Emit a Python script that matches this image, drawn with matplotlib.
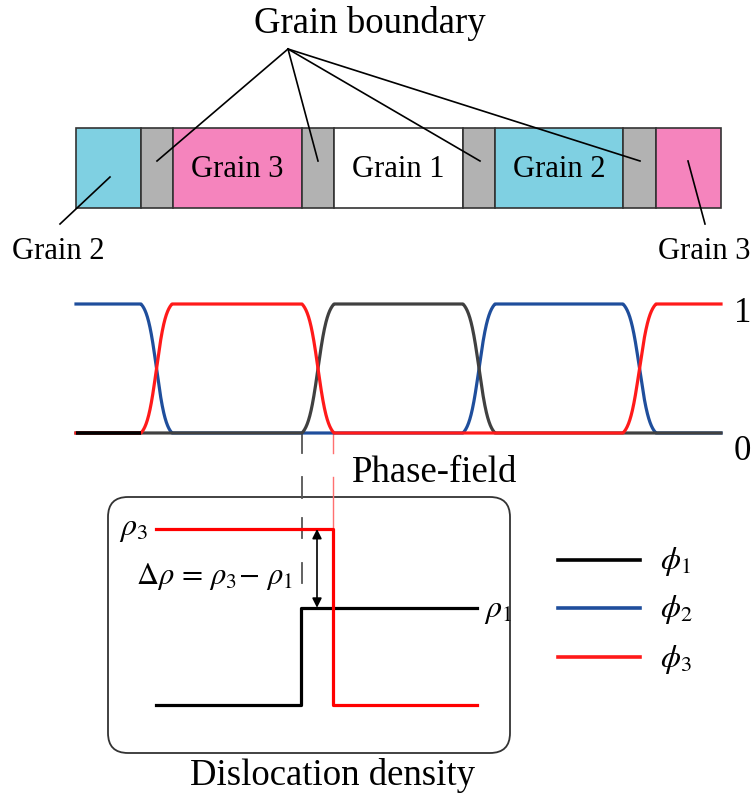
import numpy as np
import matplotlib
matplotlib.use("Agg")
import matplotlib.pyplot as plt
from matplotlib.patches import Rectangle, FancyBboxPatch

plt.rcParams['font.family'] = ['Liberation Serif', 'DejaVu Serif']
plt.rcParams['mathtext.fontset'] = 'stix'

W, H = 752, 796

# grain layout along the bar (left to right)
grain_labels = ['2', 'gb', '3', 'gb', '1', 'gb', '2', 'gb', '3']
grain_edges = [76, 141, 173, 302, 334, 463, 495, 623, 656, 721]
# phase-field: grains between interfaces, and interface extents
phase_grains = [2, 3, 1, 2, 3]
interfaces = [(141, 172), (302, 334), (463, 495), (623, 656)]
# dislocation density levels
rho_low, rho_1, rho_3 = 0.0, 1.0, 1.81
rho_step_1, rho_step_3 = 301, 333
rho_x = [156, 477]

grain_colors = {'1': 'white', '2': '#7fd0e2', '3': '#f584bd', 'gb': '#b2b2b2'}
phase_colors = {1: '#404040', 2: '#1f4e9c', 3: '#ff1a1a'}


def px_axes(fig, x0, y0, x1, y1):
    return fig.add_axes([x0 / W, 1 - y1 / H, (x1 - x0) / W, (y1 - y0) / H])


def rise(x, s, e):
    t = np.clip((x - s) / (e - s), 0, 1)
    return 0.5 + 0.5 * np.tanh(3.2 * (t - 0.5)) / np.tanh(1.6)


fig = plt.figure(figsize=(W / 100, H / 100), dpi=100)
ax = fig.add_axes([0, 0, 1, 1])
ax.set_xlim(0, W)
ax.set_ylim(H, 0)
ax.axis('off')

# --- grain bar ---
for g, x0, x1 in zip(grain_labels, grain_edges[:-1], grain_edges[1:]):
    ax.add_patch(Rectangle((x0, 128), x1 - x0, 80, facecolor=grain_colors[g],
                           edgecolor='#333333', lw=1.2))
for name, xc in [('Grain 3', 237), ('Grain 1', 398), ('Grain 2', 559)]:
    ax.text(xc, 177, name, ha='center', va='baseline', fontsize=22)

apex = (288, 49)
for tx in [157, 318, 480, 640]:
    ax.plot([apex[0], tx], [apex[1], 161], color='black', lw=1.2)
ax.text(370, 33, 'Grain boundary', ha='center', va='baseline', fontsize=26.5)
ax.plot([110, 60], [177, 224], color='black', lw=1.2)
ax.plot([688, 705], [161, 224], color='black', lw=1.2)
ax.text(12, 259, 'Grain 2', ha='left', va='baseline', fontsize=22)
ax.text(750, 259, 'Grain 3', ha='right', va='baseline', fontsize=22)

# --- phase-field profiles ---
pax = px_axes(fig, 76, 304, 721, 433)
pax.set_xlim(76, 721)
pax.set_ylim(0, 1)
pax.axis('off')
x = np.linspace(76, 721, 3000)
bounds = [None] + interfaces + [None]
phi = {k: np.zeros_like(x) for k in phase_colors}
for j, g in enumerate(phase_grains):
    w = np.ones_like(x)
    if bounds[j] is not None:
        w *= rise(x, *bounds[j])
    if bounds[j + 1] is not None:
        w *= 1 - rise(x, *bounds[j + 1])
    phi[g] += w
for k, z in [(2, 2), (1, 3), (3, 4)]:
    pax.plot(x, phi[k], color=phase_colors[k], lw=2.3, zorder=z, clip_on=False)
pax.plot([76, 141], [0, 0], color='black', lw=2.6, zorder=5, clip_on=False,
         solid_capstyle='butt')
ax.text(734, 322, '1', ha='left', va='baseline', fontsize=25)
ax.text(734, 460, '0', ha='left', va='baseline', fontsize=25)
ax.text(435, 482, 'Phase-field', ha='center', va='baseline', fontsize=26.5)

# connectors between panels
for y0, y1 in [(433, 453), (477, 498), (518, 538), (563, 583)]:
    ax.plot([302, 302], [y0, y1], color='#555555', lw=1.3)
for y0, y1 in [(433, 453), (477, 528)]:
    ax.plot([333, 333], [y0, y1], color='#ff7070', lw=1.0)

# --- dislocation density ---
ax.add_patch(FancyBboxPatch((108, 497), 402, 256,
                            boxstyle='round,pad=0,rounding_size=20',
                            facecolor='none', edgecolor='#333333', lw=1.3))
dax = px_axes(fig, rho_x[0], 529, rho_x[1], 705)
dax.set_xlim(*rho_x)
dax.set_ylim(rho_low, rho_3)
dax.axis('off')
dax.plot([rho_x[0], rho_step_1, rho_step_1, rho_x[1]], [rho_low, rho_low, rho_1, rho_1],
         color='black', lw=2.3, clip_on=False, zorder=2)
dax.plot([rho_x[0], rho_step_3, rho_step_3, rho_x[1]], [rho_3, rho_3, rho_low, rho_low],
         color='#ff0000', lw=2.3, clip_on=False, zorder=3)
dax.annotate('', xy=(317, rho_3), xytext=(317, rho_1),
             arrowprops=dict(arrowstyle='<|-|>', color='black', lw=1.2,
                             shrinkA=0, shrinkB=0, mutation_scale=14))
ax.text(119, 530, r'$\rho_3$', ha='left', va='center', fontsize=23)
ax.text(484, 611, r'$\rho_1$', ha='left', va='center', fontsize=23)
ax.text(136, 577, r'$\Delta\rho\,=\,\rho_3\!-\,\rho_1$', ha='left', va='center', fontsize=22)
ax.text(332, 785, 'Dislocation density', ha='center', va='baseline', fontsize=26.5)

# --- legend ---
for k, yl in zip([1, 2, 3], [560, 608, 657]):
    ax.plot([558, 640], [yl, yl], color='black' if k == 1 else phase_colors[k], lw=2.6)
    ax.text(660, yl + 2, r'$\phi_%d$' % k, ha='left', va='center', fontsize=23)

fig.savefig('out.png', dpi=100)
